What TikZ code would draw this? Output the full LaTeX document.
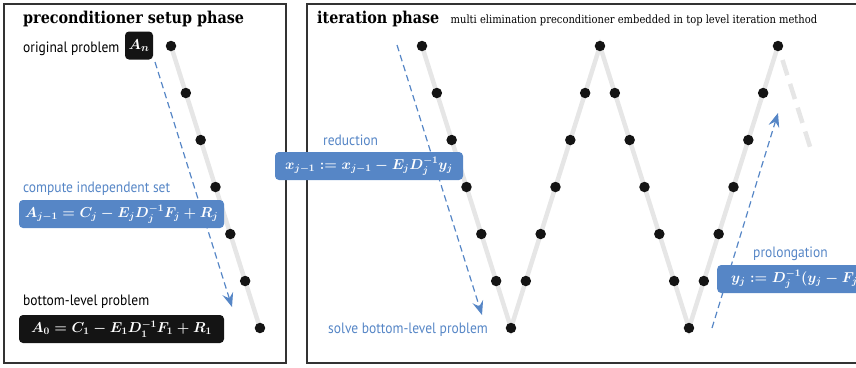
\documentclass[tikz,border=0pt]{standalone}
\usepackage[no-math]{fontspec}
\setmainfont{DejaVu Serif}
\newfontfamily\labelfont[FakeStretch=0.9]{PT Sans}
\newfontfamily\titlefont[FakeStretch=0.88]{DejaVu Serif}
\usetikzlibrary{arrows.meta}
\definecolor{myblue}{HTML}{5686C6}
\definecolor{dotblack}{HTML}{141414}
\definecolor{trackgray}{HTML}{E6E6E6}
\definecolor{framegray}{HTML}{333333}
\tikzset{
  frame/.style={draw=framegray, line width=1.5pt},
  dot/.style={circle, fill=dotblack, inner sep=0pt, minimum size=10.5pt},
  track/.style={draw=trackgray, line width=4.5pt},
  ghost/.style={draw=trackgray, line width=4.5pt, dash pattern=on 16pt off 9pt},
  flow/.style={draw=myblue, line width=1.2pt, dash pattern=on 6.5pt off 4pt,
    -{Stealth[length=14pt,width=11pt,inset=5pt]}},
  mathbox/.style={rounded corners=4pt, text=white, inner sep=0pt, minimum height=28pt,
    font=\fontsize{14}{16}\selectfont\boldmath},
  lbl/.style={font=\labelfont\fontsize{15}{18}\selectfont, inner sep=0pt, anchor=base west},
  bluelbl/.style={lbl, text=myblue},
  ttl/.style={font=\titlefont\bfseries\fontsize{16.3}{19}\selectfont, inner sep=0pt, anchor=base west},
  subttl/.style={font=\titlefont\fontsize{11.3}{13}\selectfont, inner sep=0pt, anchor=base west}
}
\begin{document}
\begin{tikzpicture}[x=1pt,y=-1pt]
\useasboundingbox (0,0) rectangle (856,367);
% frames
\draw[frame] (4,4) rectangle (286,363);
\draw[frame] (307,4) rectangle (880,363);
% titles
\node[ttl] (t1) at (23,23) {preconditioner setup phase};
\node[ttl] (t2) at (317,23) {iteration phase};
\node[subttl] (t3) at ([xshift=11pt]t2.base east) {multi elimination preconditioner embedded in top level iteration method};
% left track coordinates
\foreach \i in {0,...,6} {
  \coordinate (L\i) at ({171+14.83*\i},{46+47*\i});
}
% right track coordinates
\foreach \i in {0,...,6} {
  \coordinate (R\i) at ({422+14.83*\i},{46+47*\i});
}
\foreach \i [evaluate=\i as \j using int(\i+6)] in {1,...,6} {
  \coordinate (R\j) at ({511+14.83*\i},{328-47*\i});
}
\foreach \i [evaluate=\i as \j using int(\i+12)] in {1,...,6} {
  \coordinate (R\j) at ({600+14.83*\i},{46+47*\i});
}
\foreach \i [evaluate=\i as \j using int(\i+18)] in {1,...,6} {
  \coordinate (R\j) at ({689+14.83*\i},{328-47*\i});
}
\coordinate (g0) at (782.5,60);
\coordinate (g1) at (811.6,151.7);
% tracks
\draw[track] (L0) -- (L6);
\draw[track] (R0) -- (R6) -- (R12) -- (R18) -- (R24);
\draw[ghost] (g0) -- (g1);
% dots
\foreach \i in {0,...,6} { \node[dot] (dl\i) at (L\i) {}; }
\foreach \i in {0,...,24} { \node[dot] (dr\i) at (R\i) {}; }
% flow arrows
\coordinate (a1s) at (155,62);
\coordinate (a1e) at (232,307);
\coordinate (a2s) at (397,45);
\coordinate (a2e) at (482,315);
\coordinate (a3s) at (712,328);
\coordinate (a3e) at (778,113);
\draw[flow] (a1s) -- (a1e);
\draw[flow] (a2s) -- (a2e);
\draw[flow] (a3s) -- (a3e);
% left labels and boxes
\node[lbl] (orig) at (23,52) {original problem};
\node[mathbox, fill=dotblack, minimum width=28pt, font=\fontsize{15}{17}\selectfont\boldmath] (An) at (139,45.5) {$A_n$};
\node[bluelbl] (cis) at (23,192) {compute independent set};
\node[mathbox, fill=myblue, minimum width=205pt] (Aj) at (121.5,214) {$A_{j-1} = C_j - E_j D_j^{-1} F_j + R_j$};
\node[lbl] (blp) at (23,305) {bottom-level problem};
\node[mathbox, fill=dotblack, minimum width=205pt] (A0) at (121.5,329) {$A_0 = C_1 - E_1 D_1^{-1} F_1 + R_1$};
% right labels and boxes
\node[bluelbl] (red) at (323,145) {reduction};
\node[mathbox, fill=myblue, minimum width=188pt] (xj) at (369,166) {$x_{j-1} := x_{j-1} - E_j D_j^{-1} y_j$};
\node[bluelbl] (sbl) at (328,333) {solve bottom-level problem};
\node[bluelbl] (pro) at (753,257) {prolongation};
\node[mathbox, fill=myblue, minimum width=220pt, anchor=west, text width=210pt, align=left] (yj) at (717,279) {\hspace*{9pt}$y_j := D_j^{-1}(y_j - F_j x_j)$};
\end{tikzpicture}
\end{document}
